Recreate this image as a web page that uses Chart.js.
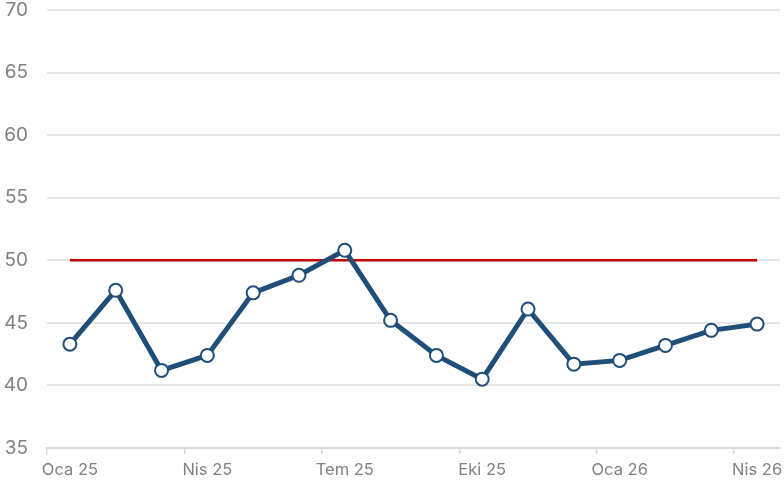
<!DOCTYPE html>
<html>
<head>
<meta charset="utf-8">
<script src="https://cdn.jsdelivr.net/npm/chart.js@4/dist/chart.umd.min.js"></script>
<style>
  html, body { margin: 0; padding: 0; background: #fff; }
  #wrap { width: 784px; height: 485px; }
</style>
</head>
<body>
<div id="wrap"><canvas id="line-chart"></canvas></div>
<script>
const months = ['Oca 25', 'Şub 25', 'Mar 25', 'Nis 25', 'May 25', 'Haz 25', 'Tem 25', 'Ağu 25',
    'Eyl 25', 'Eki 25', 'Kas 25', 'Ara 25', 'Oca 26', 'Şub 26', 'Mar 26', 'Nis 26'];
const values = [43.3, 47.6, 41.2, 42.4, 47.4, 48.8, 50.8, 45.2, 42.4, 40.5, 46.1, 41.7, 42.0, 43.2, 44.4, 44.9];
const threshold = months.map(() => 50);
const yTicks = { min: 35, max: 70, step: 5 };

const ctx = document.getElementById('line-chart');
new Chart(ctx, {
    type: 'line',
    data: {
        labels: months,
        datasets: [
            {
                label: 'Değer',
                data: values,
                borderColor: '#1f4e79',
                borderWidth: 5,
                pointRadius: 6.5,
                pointHoverRadius: 6.5,
                pointBackgroundColor: '#ffffff',
                pointBorderColor: '#1f4e79',
                pointBorderWidth: 2,
                tension: 0,
                order: 1
            },
            {
                label: 'Eşik',
                data: threshold,
                borderColor: '#c00000',
                borderWidth: 2.5,
                pointRadius: 0,
                tension: 0,
                order: 2
            }
        ]
    },
    options: {
        responsive: true,
        maintainAspectRatio: false,
        animation: false,
        layout: { autoPadding: false, padding: 0 },
        plugins: {
            legend: { display: false },
            tooltip: { enabled: false }
        },
        scales: {
            x: {
                offset: true,
                grid: {
                    offset: true,
                    drawOnChartArea: false,
                    tickLength: 6,
                    color: (c) => (c.index % 3 === 0 ? '#d9d9d9' : 'rgba(0,0,0,0)'),
                    lineWidth: 1.5
                },
                border: { color: '#d9d9d9', width: 2 },
                afterFit: (s) => { s.height = 37; s.paddingLeft = 0; s.paddingRight = 4; },
                ticks: {
                    autoSkip: false,
                    maxRotation: 0,
                    color: '#808080',
                    font: { family: 'Inter', size: 16.5 },
                    padding: 6,
                    callback: function (val, i) { return i % 3 === 0 ? this.getLabelForValue(val) : ''; }
                }
            },
            y: {
                min: yTicks.min,
                max: yTicks.max,
                grid: { color: '#e6e6e6', lineWidth: 2, drawTicks: false },
                border: { display: false },
                afterFit: (s) => { s.width = 47; s.paddingTop = 10; },
                ticks: {
                    stepSize: yTicks.step,
                    color: '#808080',
                    font: { family: 'Inter', size: 19 },
                    padding: 19
                }
            }
        }
    }
});
</script>
</body>
</html>
